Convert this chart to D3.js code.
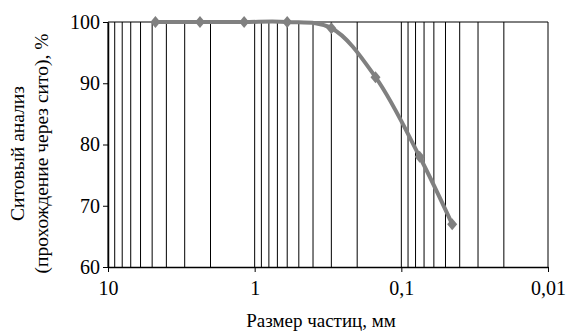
<!DOCTYPE html>
<html>
<head>
<meta charset="utf-8">
<script src="https://cdn.jsdelivr.net/npm/d3@7"></script>
<style>
  body { margin: 0; background: #fff; }
  svg text { font-family: "Liberation Serif", "DejaVu Serif", serif; fill: #000; }
</style>
</head>
<body>
<svg id="chart" width="571" height="331"></svg>
<script>
// размеры сит, мм и проход через сито, %
const sieveSizes = [4.75, 2.36, 1.18, 0.6, 0.3, 0.15, 0.075, 0.045];
const passing = [100, 100, 100, 100, 99, 91, 78, 67];

const xTicks = [10, 1, 0.1, 0.01];
const xTickLabels = ['10', '1', '0,1', '0,01'];
const yTicks = [60, 70, 80, 90, 100];

const margin = { left: 108, right: 23, top: 22, bottom: 64 };
const width = 571, height = 331;

const svg = d3.select('#chart');

const x = d3.scaleLog()
  .domain([10, 0.01])
  .range([margin.left, width - margin.right]);

const y = d3.scaleLinear()
  .domain([60, 100])
  .range([height - margin.bottom, margin.top]);

// вертикальная сетка по всем делениям логарифмической шкалы
const gridValues = [];
[0.01, 0.1, 1].forEach(base => {
  for (let m = 1; m <= 9; m++) gridValues.push(base * m);
});
gridValues.push(10);

svg.append('g')
  .selectAll('line')
  .data(gridValues)
  .enter()
  .append('line')
  .attr('x1', d => x(d))
  .attr('x2', d => x(d))
  .attr('y1', y(60))
  .attr('y2', y(100))
  .style('stroke', '#000')
  .style('stroke-width', 1);

// верхняя граница
svg.append('line')
  .attr('x1', x(10)).attr('x2', x(0.01))
  .attr('y1', y(100)).attr('y2', y(100))
  .style('stroke', '#000')
  .style('stroke-width', 1);

// ось X
const xAxis = svg.append('g')
  .attr('transform', `translate(0, ${y(60)})`)
  .call(d3.axisBottom(x)
    .tickValues(xTicks)
    .tickFormat((d, i) => xTickLabels[i])
    .tickSize(5)
    .tickSizeOuter(0));
xAxis.select('.domain').style('stroke', '#000').style('stroke-width', 1.5);
xAxis.selectAll('.tick line').style('stroke', '#000');
xAxis.selectAll('.tick text')
  .attr('y', 14)
  .style('font-size', '20px');

// ось Y
const yAxis = svg.append('g')
  .attr('transform', `translate(${x(10)}, 0)`)
  .call(d3.axisLeft(y)
    .tickValues(yTicks)
    .tickSize(5)
    .tickSizeOuter(0));
yAxis.select('.domain').style('stroke', '#000').style('stroke-width', 1.5);
yAxis.selectAll('.tick line').style('stroke', '#000');
yAxis.selectAll('.tick text')
  .attr('x', -8)
  .style('font-size', '20px');

// подписи осей
svg.append('text')
  .attr('x', 321)
  .attr('y', 327)
  .attr('text-anchor', 'middle')
  .style('font-size', '19px')
  .text('Размер частиц, мм');

const yTitle = svg.append('text')
  .attr('transform', `translate(24, ${(y(60) + y(100)) / 2 + 9}) rotate(-90)`)
  .attr('text-anchor', 'middle')
  .style('font-size', '19.5px');
yTitle.append('tspan').attr('x', 0).attr('dy', 0).text('Ситовый анализ');
yTitle.append('tspan').attr('x', 0).attr('dy', 24).text('(прохождение через сито), %');

// кривая
const points = sieveSizes.map((s, i) => [x(s), y(passing[i])]);

svg.append('path')
  .attr('d', d3.line().curve(d3.curveCatmullRom.alpha(0.5))(points))
  .style('fill', 'none')
  .style('stroke', '#808080')
  .style('stroke-width', 4);

svg.append('g')
  .selectAll('path')
  .data(points)
  .enter()
  .append('path')
  .attr('transform', d => `translate(${d[0]}, ${d[1]})`)
  .attr('d', 'M0,-6L5,0L0,6L-5,0Z')
  .style('fill', '#808080');
</script>
</body>
</html>
